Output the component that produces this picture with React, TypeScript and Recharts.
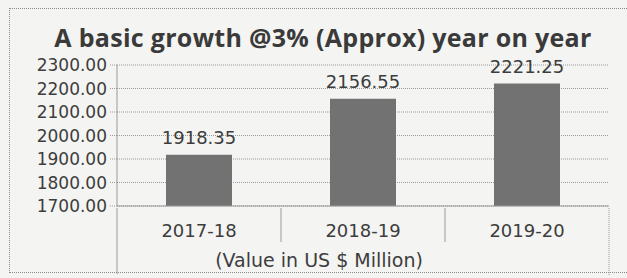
import React from 'react';
import { BarChart, Bar, XAxis, YAxis, CartesianGrid, LabelList } from 'recharts';

const categories = ['2017-18', '2018-19', '2019-20'];
const values = [1918.35, 2156.55, 2221.25];
const yTicks = [1700, 1800, 1900, 2000, 2100, 2200, 2300];
const chartTitle = 'A basic growth @3% (Approx) year on year';
const axisTitle = '(Value in US $ Million)';

const data = categories.map((c, i) => ({ category: c, value: values[i] }));

const W = 627;
const H = 278;
const M = { top: 65, right: 18, left: 0, bottom: 0 };
const Y_W = 117;
const X_H = 72;
const PLOT_W = W - M.left - M.right - Y_W;
const TEXT = '#3d3d3d';
const LINE = '#9a9a9a';
const FONT = '"DejaVu Sans", Verdana, sans-serif';

const CatTick = (props: any) => {
  const { x, y, payload, index } = props;
  const band = PLOT_W / categories.length;
  const last = index === categories.length - 1;
  return (
    <g>
      <line x1={x - band / 2} x2={x - band / 2} y1={y} y2={index === 0 ? y + 66 : y + 34} stroke={LINE} strokeWidth={1} />
      {last && <line x1={x + band / 2} x2={x + band / 2} y1={y} y2={y + 68} stroke={LINE} strokeDasharray="1 1" strokeWidth={1} />}
      <text x={x} y={y + 29} textAnchor="middle" fill={TEXT} fontSize={18} fontFamily={FONT}>
        {payload.value}
      </text>
    </g>
  );
};

export default function App() {
  return (
    <div style={{ position: 'absolute', left: 0, top: 0, width: W, height: H, background: '#f4f4f2', overflow: 'hidden' }}>
      <div style={{ position: 'absolute', left: 9, top: 8, width: 640, height: 265, border: '1px dotted #8a8a8a', boxSizing: 'border-box' }} />
      <div style={{ position: 'absolute', left: 0, top: 20, width: 646, textAlign: 'center', fontFamily: '"Open Sans", sans-serif', fontWeight: 700, fontSize: 25, letterSpacing: 0.3, color: '#3a3a3a', whiteSpace: 'nowrap' }}>
        {chartTitle}
      </div>
      <BarChart width={W} height={H} data={data} margin={M} style={{ position: 'absolute', left: 0, top: 0 }}>
        <CartesianGrid horizontal vertical={false} stroke={LINE} strokeDasharray="1 1" />
        <XAxis
          dataKey="category"
          height={X_H}
          tickSize={0}
          tickLine={false}
          axisLine={{ stroke: LINE }}
          tick={<CatTick />}
          interval={0}
        />
        <YAxis
          width={Y_W}
          domain={[1700, 2300]}
          ticks={yTicks}
          interval={0}
          tickSize={7}
          tickMargin={3}
          tickLine={{ stroke: LINE, strokeDasharray: '1 1' }}
          axisLine={{ stroke: LINE }}
          tickFormatter={(v: number) => v.toFixed(2)}
          tick={{ fill: TEXT, fontSize: 17, fontFamily: FONT }}
        />
        <Bar dataKey="value" fill="#727272" barSize={66} isAnimationActive={false}>
          <LabelList dataKey="value" position="top" offset={11} fill={TEXT} fontSize={18} fontFamily={FONT} formatter={(v: any) => Number(v).toFixed(2)} />
        </Bar>
      </BarChart>
      <div style={{ position: 'absolute', left: 0, top: 249, width: 638, textAlign: 'center', fontFamily: FONT, fontSize: 19, color: TEXT, whiteSpace: 'nowrap' }}>
        {axisTitle}
      </div>
    </div>
  );
}
